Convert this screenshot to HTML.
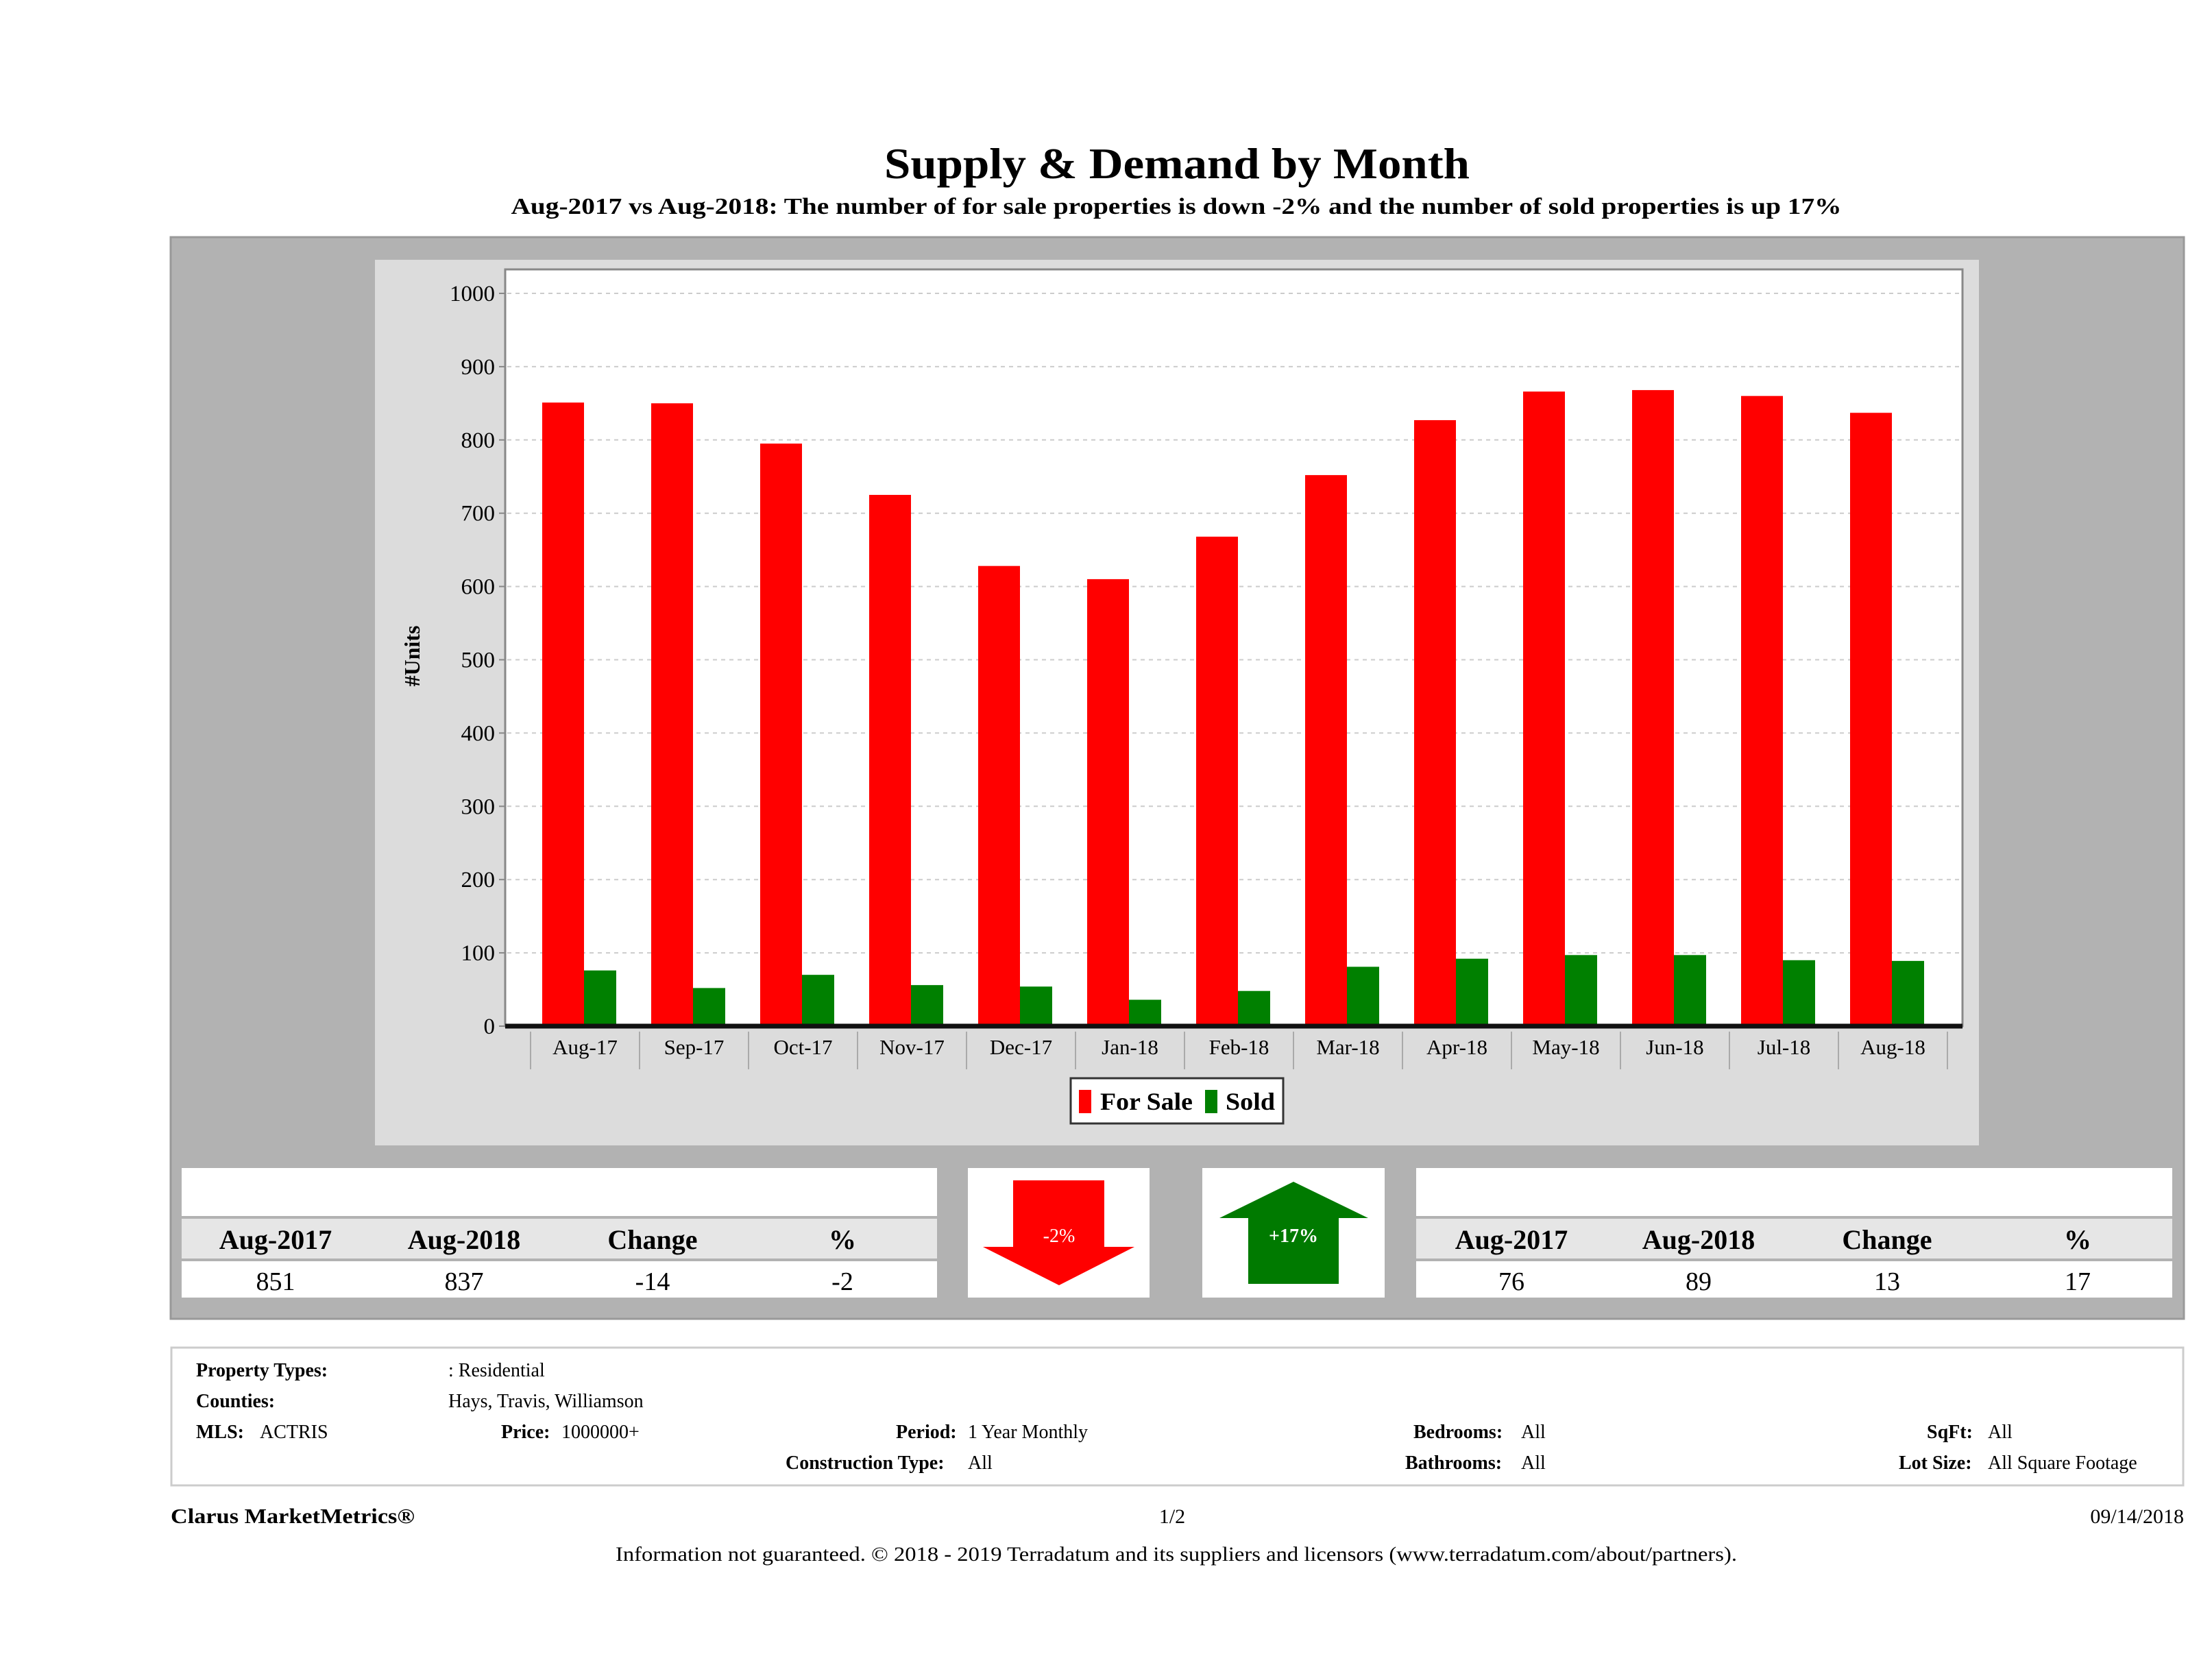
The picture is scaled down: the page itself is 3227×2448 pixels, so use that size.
<!DOCTYPE html>
<html><head><meta charset="utf-8">
<style>
html,body{margin:0;padding:0;background:#fff;}
svg{display:block;font-family:"Liberation Serif",serif;}
</style></head>
<body>
<svg id="page" width="3227" height="2448" viewBox="0 0 3227 2448" xmlns="http://www.w3.org/2000/svg">
<text x="1717" y="260" font-size="64" font-weight="bold" text-anchor="middle" textLength="854" lengthAdjust="spacingAndGlyphs">Supply &amp; Demand by Month</text>
<text x="1716" y="312" font-size="34" font-weight="bold" text-anchor="middle" textLength="1941" lengthAdjust="spacingAndGlyphs">Aug-2017 vs Aug-2018: The number of for sale properties is down -2% and the number of sold properties is up 17%</text>

<rect x="249" y="346" width="2937" height="1578" fill="#b2b2b2" stroke="#999" stroke-width="3"/>
<rect x="547" y="379" width="2340" height="1292" fill="#dcdcdc"/>
<rect x="737" y="393" width="2126" height="1104" fill="#fff" stroke="#888" stroke-width="3"/>
<g id="grid"></g>
<g id="bars"></g>
<g id="xaxis"></g>
<text transform="translate(612,957) rotate(-90)" font-size="32" font-weight="bold" text-anchor="middle">#Units</text>

<g>
<rect x="1562" y="1573" width="310" height="66" fill="#fff" stroke="#333" stroke-width="3"/>
<rect x="1574" y="1590" width="18" height="34" fill="#f00"/>
<text x="1605" y="1619" font-size="36" font-weight="bold" textLength="135" lengthAdjust="spacingAndGlyphs">For Sale</text>
<rect x="1758" y="1590" width="18" height="34" fill="#008000"/>
<text x="1788" y="1619" font-size="36" font-weight="bold" textLength="72" lengthAdjust="spacingAndGlyphs">Sold</text>
</g>

<g>
<rect x="265" y="1704" width="1102" height="70" fill="#fff"/>
<rect x="265" y="1778" width="1102" height="58" fill="#e6e6e6"/>
<rect x="265" y="1840" width="1102" height="53" fill="#fff"/>
<g font-size="40" font-weight="bold" text-anchor="middle">
<text x="402" y="1822">Aug-2017</text><text x="677" y="1822">Aug-2018</text><text x="952" y="1822">Change</text><text x="1229" y="1822">%</text></g>
<g font-size="38" text-anchor="middle">
<text x="402" y="1882">851</text><text x="677" y="1882">837</text><text x="952" y="1882">-14</text><text x="1229" y="1882">-2</text></g>
</g>

<rect x="1412" y="1704" width="265" height="189" fill="#fff"/>
<polygon points="1478,1722 1611,1722 1611,1819 1655,1819 1545,1875 1434,1819 1478,1819" fill="#f00"/>
<text x="1545" y="1812" font-size="28" fill="#fff" text-anchor="middle">-2%</text>

<rect x="1754" y="1704" width="266" height="189" fill="#fff"/>
<polygon points="1887,1724 1996,1777 1953,1777 1953,1873 1821,1873 1821,1777 1779,1777" fill="#007a00"/>
<text x="1887" y="1812" font-size="28" font-weight="bold" fill="#fff" text-anchor="middle">+17%</text>

<g>
<rect x="2066" y="1704" width="1103" height="70" fill="#fff"/>
<rect x="2066" y="1778" width="1103" height="58" fill="#e6e6e6"/>
<rect x="2066" y="1840" width="1103" height="53" fill="#fff"/>
<g font-size="40" font-weight="bold" text-anchor="middle">
<text x="2205" y="1822">Aug-2017</text><text x="2478" y="1822">Aug-2018</text><text x="2753" y="1822">Change</text><text x="3031" y="1822">%</text></g>
<g font-size="38" text-anchor="middle">
<text x="2205" y="1882">76</text><text x="2478" y="1882">89</text><text x="2753" y="1882">13</text><text x="3031" y="1882">17</text></g>
</g>

<rect x="250" y="1966" width="2935" height="201" fill="#fff" stroke="#ccc" stroke-width="3"/>
<g font-size="28">
<text x="286" y="2008" font-weight="bold">Property Types:</text><text x="654" y="2008">: Residential</text>
<text x="286" y="2053" font-weight="bold">Counties:</text><text x="654" y="2053">Hays, Travis, Williamson</text>
<text x="286" y="2098" font-weight="bold">MLS:</text><text x="379" y="2098">ACTRIS</text>
<text x="731" y="2098" font-weight="bold">Price:</text><text x="819" y="2098">1000000+</text>
<text x="1307" y="2098" font-weight="bold">Period:</text><text x="1412" y="2098">1 Year Monthly</text>
<text x="1146" y="2143" font-weight="bold">Construction Type:</text><text x="1412" y="2143">All</text>
<text x="2062" y="2098" font-weight="bold">Bedrooms:</text><text x="2219" y="2098">All</text>
<text x="2050" y="2143" font-weight="bold">Bathrooms:</text><text x="2219" y="2143">All</text>
<text x="2811" y="2098" font-weight="bold">SqFt:</text><text x="2900" y="2098">All</text>
<text x="2770" y="2143" font-weight="bold">Lot Size:</text><text x="2900" y="2143">All Square Footage</text>
</g>
<text x="249" y="2222" font-size="31" font-weight="bold" textLength="356" lengthAdjust="spacingAndGlyphs">Clarus MarketMetrics®</text>
<text x="1710" y="2222" font-size="30" text-anchor="middle">1/2</text>
<text x="3186" y="2222" font-size="30" text-anchor="end">09/14/2018</text>
<text x="1716" y="2277" font-size="30" text-anchor="middle" textLength="1636" lengthAdjust="spacingAndGlyphs">Information not guaranteed. © 2018 - 2019 Terradatum and its suppliers and licensors (www.terradatum.com/about/partners).</text>
</svg>
<script>
const categories = ["Aug-17","Sep-17","Oct-17","Nov-17","Dec-17","Jan-18","Feb-18","Mar-18","Apr-18","May-18","Jun-18","Jul-18","Aug-18"];
const forSale = [851, 850, 795, 725, 628, 610, 668, 752, 827, 866, 868, 860, 837];
const sold = [76, 52, 70, 56, 54, 36, 48, 81, 92, 97, 97, 90, 89];
const yTicks = [0,100,200,300,400,500,600,700,800,900,1000];

const NS = "http://www.w3.org/2000/svg";
const y0 = 1497, yPerUnit = 1069/1000;
const xStart = 774, catW = 159;
function yScale(v){ return y0 - v*yPerUnit; }
function xScale(i){ return xStart + i*catW; }
function mk(tag, attrs, parent){ const e=document.createElementNS(NS,tag); for(const k in attrs) e.setAttribute(k,attrs[k]); parent.appendChild(e); return e; }

const grid = document.getElementById('grid');
yTicks.forEach(t=>{
  const y = yScale(t);
  if (t>0) { const g = mk('line',{x1:740,x2:2861,y1:y,y2:y,stroke:'#ccc','stroke-width':2,'stroke-dasharray':'6,6'},grid);
  
   }
  const tk = mk('line',{x1:728,x2:737,y1:y,y2:y,stroke:'#888','stroke-width':2},grid);
  
  
  const lb = mk('text',{x:722,y:y+11,'font-size':33,'text-anchor':'end'},grid);
  lb.textContent = t;
  
  
});

const bars = document.getElementById('bars');
categories.forEach((c,i)=>{
  const x = xScale(i);
  const r = mk('rect',{x:x+17,y:yScale(forSale[i]),width:61,height:forSale[i]*yPerUnit,fill:'#f00'},bars);
  
  
  const g = mk('rect',{x:x+78,y:yScale(sold[i]),width:47,height:sold[i]*yPerUnit,fill:'#008000'},bars);
  
  
});

const xa = document.getElementById('xaxis');
const base = mk('line',{x1:737,x2:2863,y1:y0,y2:y0,stroke:'#111','stroke-width':7},xa);


for(let i=0;i<=categories.length;i++){
  const s = mk('line',{x1:xScale(i),x2:xScale(i),y1:1505,y2:1560,stroke:'#aaa','stroke-width':2},xa);
  
  
}
categories.forEach((c,i)=>{
  const t = mk('text',{x:xScale(i)+catW/2,y:1538,'font-size':31,'text-anchor':'middle'},xa);
  t.textContent = c;
  
  
});
</script>
</body></html>
